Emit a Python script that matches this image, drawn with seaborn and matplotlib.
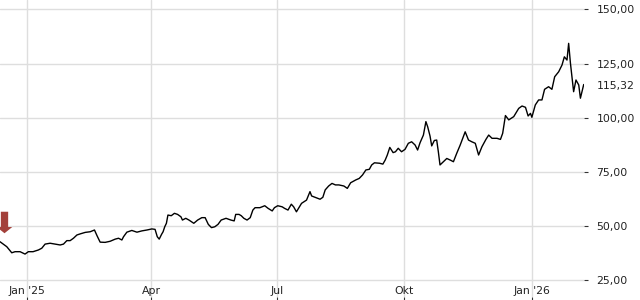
import numpy as np
import pandas as pd
import seaborn as sns
import matplotlib
matplotlib.use("Agg")
import matplotlib.pyplot as plt
from matplotlib.path import Path
from matplotlib.ticker import FixedLocator, FixedFormatter
from matplotlib.transforms import ScaledTranslation

# ---- data ----
start_date = "2025-01-01"
day_offsets = [
    -19.3, -14.4, -10.8, -8.4, -4.8, -1.2, 1.2, 4.6, 8.5, 10.9, 13.3, 16.9, 20.5, 24.2,
    26.6, 29.0, 31.4, 33.8, 36.3, 38.6, 42.3, 45.9, 49.0, 50.9, 53.1, 56.7, 60.3, 64.0,
    66.4, 68.8, 70.0, 72.4, 76.0, 79.7, 83.3, 86.9, 90.5, 92.8, 94.4, 95.8, 97.5, 98.6,
    99.8, 101.0, 102.1, 104.5, 106.8, 109.1, 111.5, 112.6, 115.0, 117.3, 120.8, 123.6,
    126.6, 129.0, 131.3, 133.6, 136.0, 138.3, 140.6, 144.1, 147.6, 150.0, 151.1, 153.5,
    155.1, 157.0, 159.3, 161.6, 163.5, 165.1, 168.6, 172.1, 174.5, 177.5, 179.1, 181.5,
    184.7, 186.4, 188.9, 191.3, 193.0, 195.0, 198.7, 202.3, 204.8, 206.0, 208.5, 212.1,
    214.1, 215.8, 218.3, 220.7, 223.2, 225.7, 229.3, 231.8, 234.2, 237.9, 240.4, 242.8,
    245.2, 247.7, 249.4, 251.4, 255.1, 257.5, 259.2, 260.7, 262.5, 264.9, 266.6, 268.6,
    271.0, 273.5, 275.9, 278.3, 280.8, 282.6, 284.4, 286.8, 288.6, 289.9, 291.6, 292.8,
    294.7, 296.4, 297.6, 298.8, 301.3, 303.7, 306.1, 308.5, 310.9, 313.4, 317.0, 319.4,
    321.8, 324.3, 326.7, 329.1, 332.0, 334.0, 336.4, 340.0, 342.5, 344.1, 346.1, 348.5,
    352.1, 355.7, 358.1, 360.6, 362.5, 364.2, 365.2, 367.7, 370.1, 372.5, 374.4, 377.3,
    379.7, 381.7, 384.6, 387.0, 388.7, 390.6, 391.8, 393.1, 394.2, 395.4, 397.1, 399.1,
    400.3, 402.7,
]
prices = [
    42.8, 40.5, 37.7, 38.2, 38.2, 37.1, 38.2, 38.2, 39.0, 39.8, 41.7, 42.1, 41.7, 41.3,
    41.7, 43.3, 43.3, 44.4, 45.9, 46.4, 47.1, 47.4, 48.2, 45.5, 42.6, 42.5, 43.0, 44.0,
    44.4, 43.6, 45.1, 47.2, 48.0, 47.2, 47.8, 48.2, 48.7, 48.5, 45.1, 44.0, 46.2, 47.4,
    49.7, 51.3, 55.1, 54.8, 55.9, 55.4, 54.3, 52.8, 53.6, 52.8, 51.3, 52.8,
    53.9, 53.9, 50.8, 49.3, 49.7, 50.8, 52.8, 53.6, 52.8, 52.4, 55.4, 55.4,
    54.8, 53.6, 52.8, 53.9, 57.4, 58.5, 58.5, 59.4, 58.2, 57.0, 58.5, 59.4,
    58.9, 58.2, 57.4, 60.1, 58.9, 56.6, 60.5, 62.0, 65.9, 63.9, 63.3, 62.4,
    63.3, 66.7, 68.5, 69.7, 69.0, 69.0, 68.5, 67.4, 70.0, 71.3, 72.0, 73.6,
    75.9, 76.2, 78.2, 79.2, 79.0, 78.6, 80.5, 82.8, 86.3, 83.9, 84.3, 85.9,
    84.3, 85.4, 88.2, 88.9, 87.4, 85.1, 88.5, 92.0, 98.2, 95.8, 91.5, 87.0,
    89.5, 89.7, 84.3, 78.2, 79.7, 81.2, 80.5, 79.7, 83.6, 87.4, 93.5, 89.7,
    88.9, 88.2, 82.8, 86.6, 90.0, 92.0, 90.5, 90.5, 90.0, 92.8, 101.0, 99.0,
    100.5, 104.3, 105.4, 104.8, 100.8, 102.0, 100.2, 105.9, 108.2, 108.2, 113.1, 114.3,
    113.1, 118.9, 121.2, 124.3, 128.1, 126.6, 134.3, 125.1, 118.9, 112.0, 117.4, 115.1,
    109.0, 115.32,
]
y_ticks = [25, 50, 75, 100, 125, 150]
y_tick_labels = ["25,00", "50,00", "75,00", "100,00", "125,00", "150,00"]
x_tick_dates = ["2025-01-01", "2025-04-01", "2025-07-01", "2025-10-01", "2026-01-01"]
x_tick_labels = ["Jan '25", "Apr", "Jul", "Okt", "Jan '26"]
last_label = "115,32"

dates = pd.Timestamp(start_date) + pd.to_timedelta(day_offsets, unit="D")
df = pd.DataFrame({"date": dates, "price": prices})

sns.set_theme(style="white")
plt.rcParams["font.family"] = ["DejaVu Sans"]

fig = plt.figure(figsize=(6.4, 3.0), dpi=100)
ax = fig.add_axes([0.0, 0.01, 584 / 640, 0.99])

sns.lineplot(data=df, x="date", y="price", ax=ax, color="black", linewidth=1.0)

ax.set_xlim(pd.Timestamp(start_date) + pd.Timedelta(days=-19.3),
            pd.Timestamp(start_date) + pd.Timedelta(days=402.9))
ax.set_ylim(17.3, 154.3)

for s in ax.spines.values():
    s.set_visible(False)

ax.xaxis.set_major_locator(FixedLocator(matplotlib.dates.date2num(pd.to_datetime(x_tick_dates))))
ax.xaxis.set_major_formatter(FixedFormatter(x_tick_labels))
ax.yaxis.set_major_locator(FixedLocator(y_ticks))
ax.yaxis.set_major_formatter(FixedFormatter(y_tick_labels))
ax.yaxis.tick_right()
ax.yaxis.set_minor_locator(FixedLocator([prices[-1]]))
ax.yaxis.set_minor_formatter(FixedFormatter([last_label]))

ax.grid(True, which="major", color="#dedede", linewidth=1.0)
ax.set_axisbelow(True)
ax.tick_params(axis="x", which="major", direction="out", length=2.5, width=0.8,
               color="#333333", pad=-10.5, labelsize=7.8, labelcolor="#222222",
               bottom=True)
ax.tick_params(axis="y", which="major", direction="out", length=3, width=0.8,
               color="#333333", pad=6, labelsize=7.8, labelcolor="#222222",
               right=True, left=False)
ax.tick_params(axis="y", which="minor", length=0, pad=9, labelsize=7.8,
               labelcolor="#222222", right=True, left=False)
ax.set_xlabel("")
ax.set_ylabel("")

# red down arrow marking the start
arrow = Path([(-0.17, 0.5), (0.17, 0.5), (0.17, -0.21), (0.36, -0.21), (0.0, -0.5),
              (-0.36, -0.21), (-0.17, -0.21), (-0.17, 0.5)], closed=True)
trans = ax.transData + ScaledTranslation(3.5 / 100, 19.5 / 100, fig.dpi_scale_trans)
ax.plot([df["date"].iloc[0]], [prices[0]], marker=arrow, markersize=15.5,
        color="#a3403a", markeredgewidth=0, linestyle="none", transform=trans,
        clip_on=True, zorder=5)

fig.savefig("out.png", dpi=100)
